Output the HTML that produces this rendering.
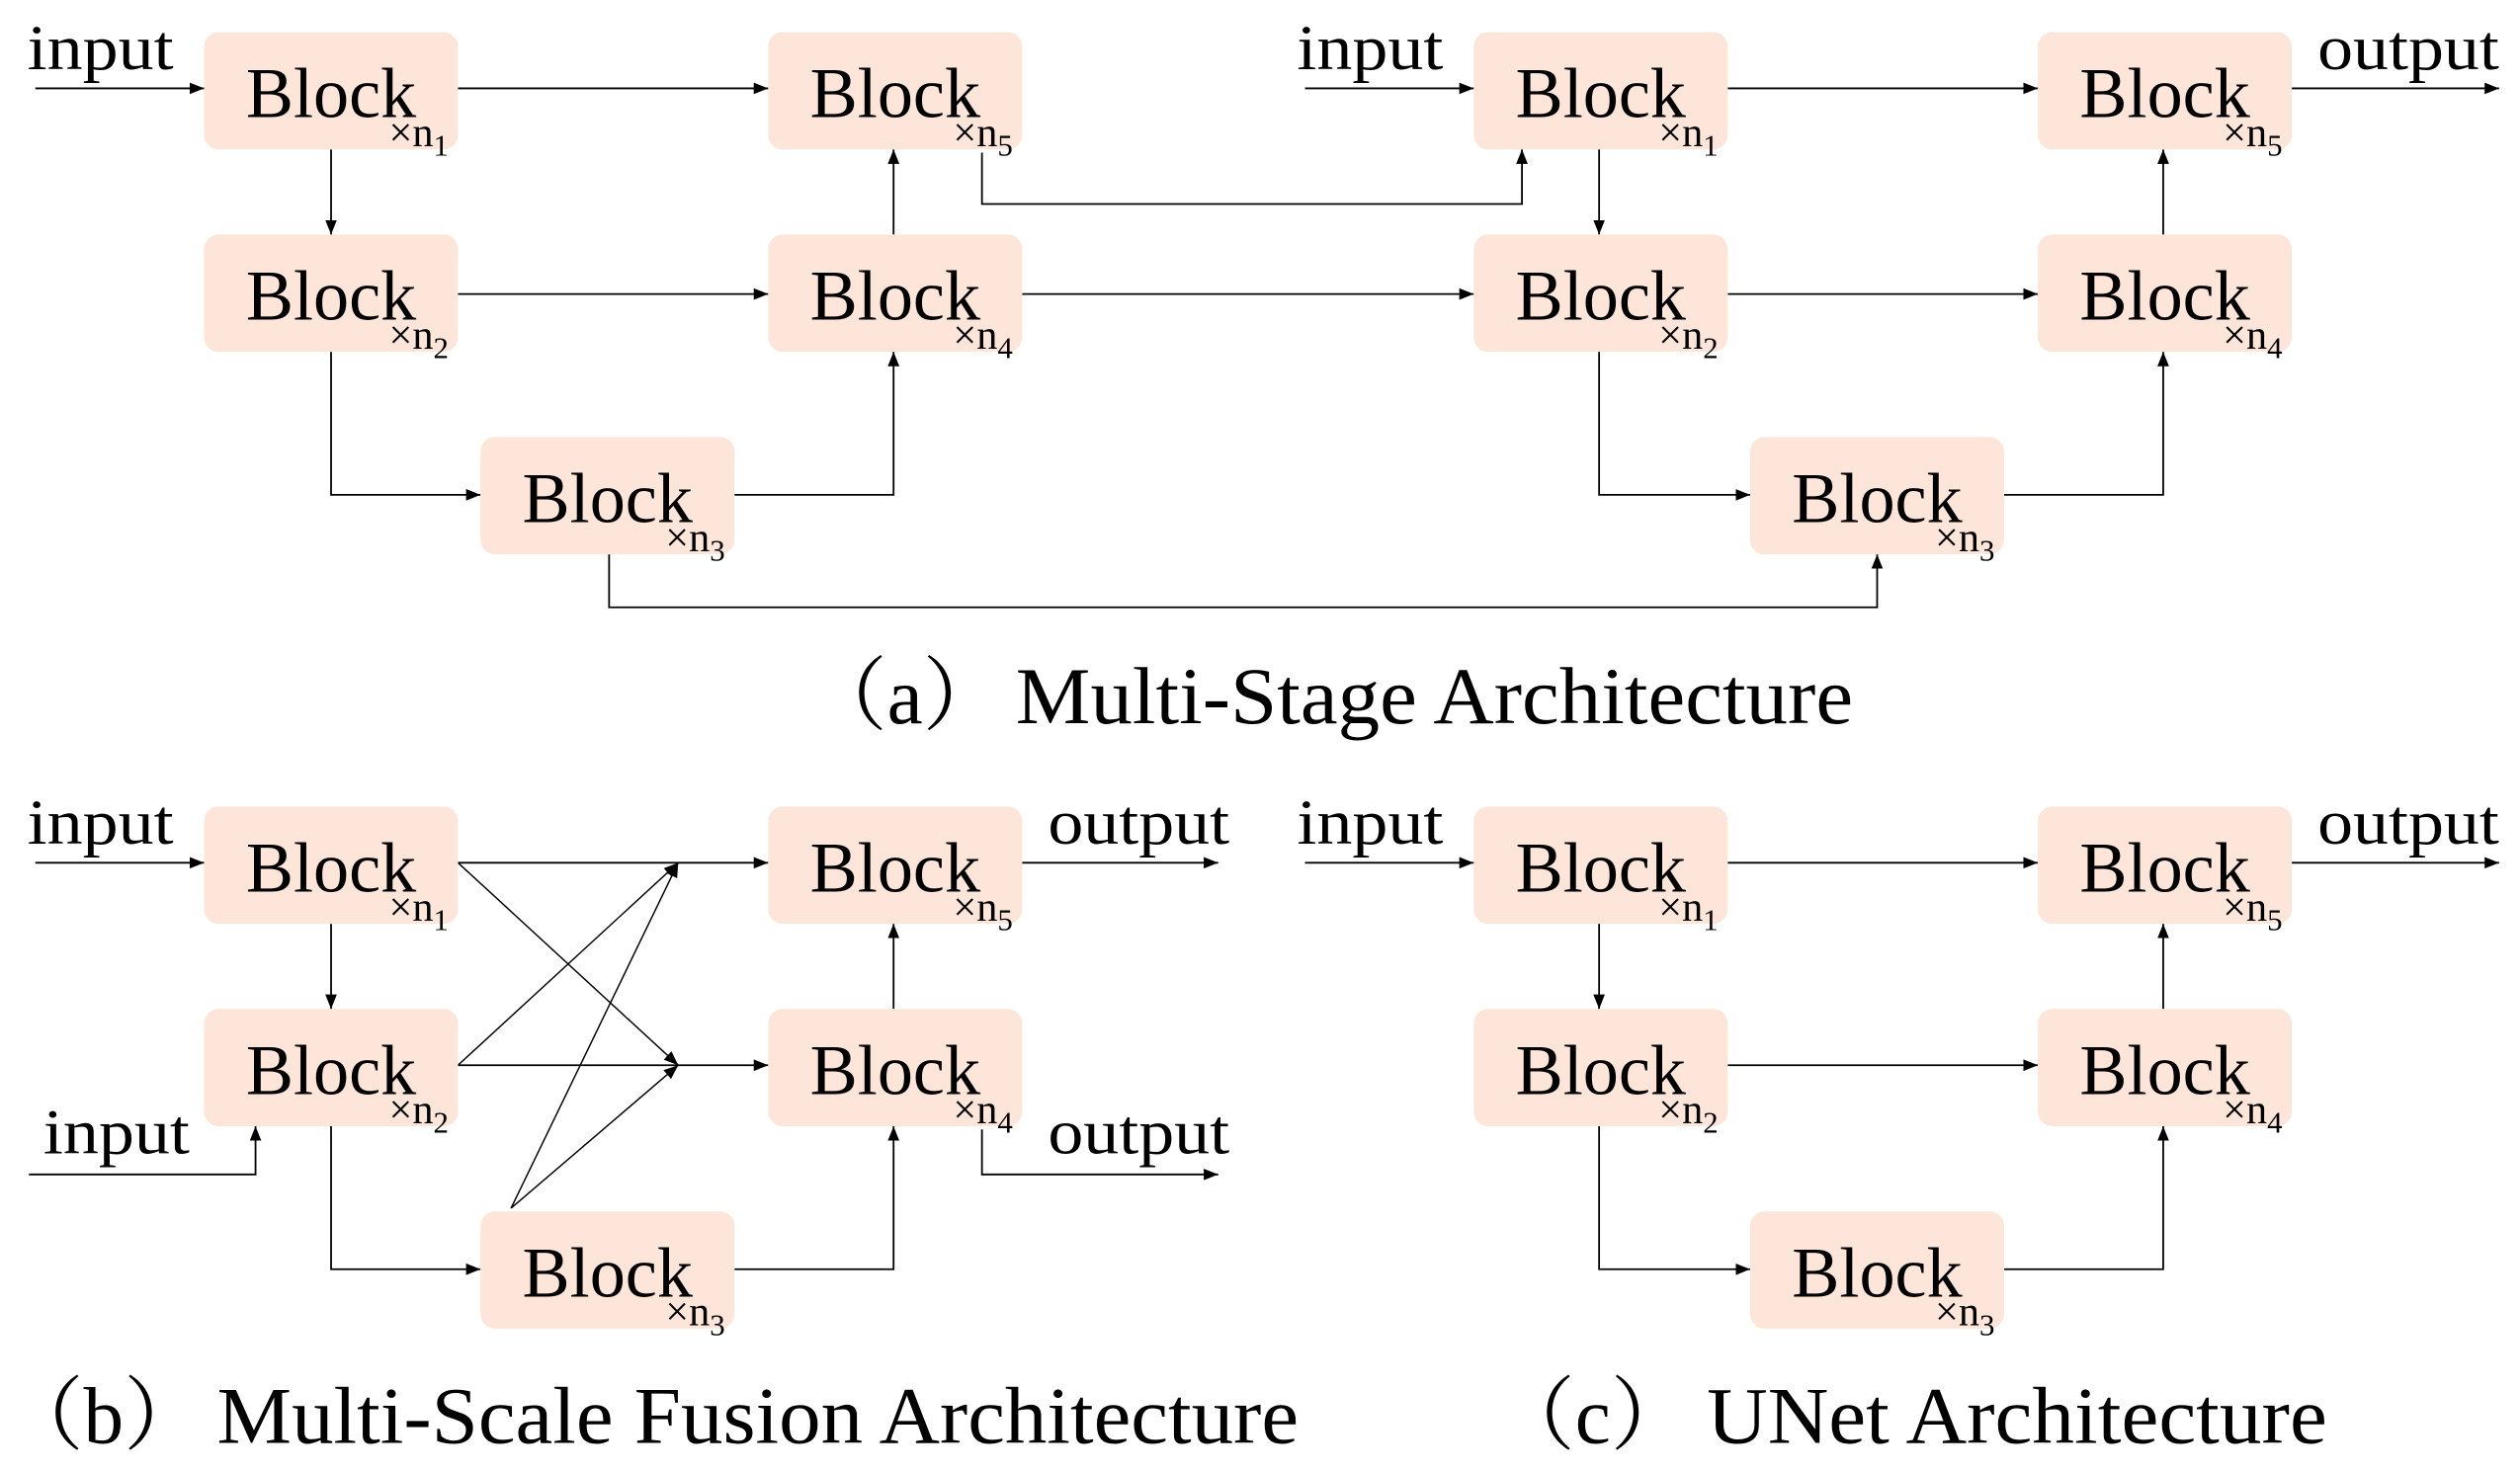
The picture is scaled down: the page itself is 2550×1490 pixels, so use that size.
<!DOCTYPE html>
<html><head><meta charset="utf-8"><style>
html,body{margin:0;padding:0;background:#fff;width:2550px;height:1490px;overflow:hidden}
svg{display:block}
text{font-family:"Liberation Serif","Noto Serif CJK SC",serif;fill:#000}
</style></head><body>
<svg width="2550" height="1490" viewBox="0 0 1568 916.2" preserveAspectRatio="none" xmlns="http://www.w3.org/2000/svg">
<defs>
<marker id="a" viewBox="0 0 10 10" refX="10" refY="5" markerWidth="9" markerHeight="9" markerUnits="userSpaceOnUse" orient="auto"><path d="M0,1 L10,5 L0,9 z" fill="#000"/></marker>
<g id="blk">
<rect x="0" y="0" width="158" height="73" rx="9" fill="#fde5da"/>
<text x="26" y="53" font-size="44" textLength="106" lengthAdjust="spacingAndGlyphs">Block</text>
</g>
</defs>
<g stroke="#000" stroke-width="1.1" fill="none">
<path d="M22,55H127" marker-end="url(#a)"/>
<path d="M285,55H478" marker-end="url(#a)"/>
<path d="M206,93V146" marker-end="url(#a)"/>
<path d="M285,183H478" marker-end="url(#a)"/>
<path d="M206,219V308H299" marker-end="url(#a)"/>
<path d="M457,308H556V219" marker-end="url(#a)"/>
<path d="M556,146V93" marker-end="url(#a)"/>
<path d="M611,95V127H947V93" marker-end="url(#a)"/>
<path d="M636,183H917" marker-end="url(#a)"/>
<path d="M379,345V378H1168V345" marker-end="url(#a)"/>
<path d="M812,55H917" marker-end="url(#a)"/>
<path d="M1075,55H1268" marker-end="url(#a)"/>
<path d="M1426,55H1555" marker-end="url(#a)"/>
<path d="M995,93V146" marker-end="url(#a)"/>
<path d="M1075,183H1268" marker-end="url(#a)"/>
<path d="M995,219V308H1089" marker-end="url(#a)"/>
<path d="M1247,308H1346V219" marker-end="url(#a)"/>
<path d="M1346,146V93" marker-end="url(#a)"/>
<path d="M22,537H127" marker-end="url(#a)"/>
<path d="M285,537H478" marker-end="url(#a)"/>
<path d="M206,575V628" marker-end="url(#a)"/>
<path d="M285,663H478" marker-end="url(#a)"/>
<path d="M18,731H159V701" marker-end="url(#a)"/>
<path d="M206,701V790H299" marker-end="url(#a)"/>
<path d="M457,790H556V701" marker-end="url(#a)"/>
<path d="M556,628V575" marker-end="url(#a)"/>
<path d="M636,537H758" marker-end="url(#a)"/>
<path d="M611,703V731H758" marker-end="url(#a)"/>
<path d="M285,537L422,663" stroke-width="0.9" marker-end="url(#a)"/>
<path d="M285,663L422,537" stroke-width="0.9" marker-end="url(#a)"/>
<path d="M318,752L422,537" stroke-width="0.9" marker-end="url(#a)"/>
<path d="M318,752L422,663" stroke-width="0.9" marker-end="url(#a)"/>
<path d="M812,537H917" marker-end="url(#a)"/>
<path d="M1075,537H1268" marker-end="url(#a)"/>
<path d="M1426,537H1555" marker-end="url(#a)"/>
<path d="M995,575V628" marker-end="url(#a)"/>
<path d="M1075,663H1268" marker-end="url(#a)"/>
<path d="M995,701V790H1089" marker-end="url(#a)"/>
<path d="M1247,790H1346V701" marker-end="url(#a)"/>
<path d="M1346,628V575" marker-end="url(#a)"/>
</g>
<g>
<use href="#blk" x="127" y="20"/><use href="#blk" x="478" y="20"/>
<use href="#blk" x="127" y="146"/><use href="#blk" x="478" y="146"/>
<use href="#blk" x="299" y="272"/>
<use href="#blk" x="917" y="20"/><use href="#blk" x="1268" y="20"/>
<use href="#blk" x="917" y="146"/><use href="#blk" x="1268" y="146"/>
<use href="#blk" x="1089" y="272"/>
<use href="#blk" x="127" y="502"/><use href="#blk" x="478" y="502"/>
<use href="#blk" x="127" y="628"/><use href="#blk" x="478" y="628"/>
<use href="#blk" x="299" y="754"/>
<use href="#blk" x="917" y="502"/><use href="#blk" x="1268" y="502"/>
<use href="#blk" x="917" y="628"/><use href="#blk" x="1268" y="628"/>
<use href="#blk" x="1089" y="754"/>
</g>
<g font-size="26">
<text x="242" y="91">×n<tspan font-size="19" dy="6">1</tspan></text>
<text x="593" y="91">×n<tspan font-size="19" dy="6">5</tspan></text>
<text x="242" y="217">×n<tspan font-size="19" dy="6">2</tspan></text>
<text x="593" y="217">×n<tspan font-size="19" dy="6">4</tspan></text>
<text x="414" y="343">×n<tspan font-size="19" dy="6">3</tspan></text>
<text x="1032" y="91">×n<tspan font-size="19" dy="6">1</tspan></text>
<text x="1383" y="91">×n<tspan font-size="19" dy="6">5</tspan></text>
<text x="1032" y="217">×n<tspan font-size="19" dy="6">2</tspan></text>
<text x="1383" y="217">×n<tspan font-size="19" dy="6">4</tspan></text>
<text x="1204" y="343">×n<tspan font-size="19" dy="6">3</tspan></text>
<text x="242" y="573">×n<tspan font-size="19" dy="6">1</tspan></text>
<text x="593" y="573">×n<tspan font-size="19" dy="6">5</tspan></text>
<text x="242" y="699">×n<tspan font-size="19" dy="6">2</tspan></text>
<text x="593" y="699">×n<tspan font-size="19" dy="6">4</tspan></text>
<text x="414" y="825">×n<tspan font-size="19" dy="6">3</tspan></text>
<text x="1032" y="573">×n<tspan font-size="19" dy="6">1</tspan></text>
<text x="1383" y="573">×n<tspan font-size="19" dy="6">5</tspan></text>
<text x="1032" y="699">×n<tspan font-size="19" dy="6">2</tspan></text>
<text x="1383" y="699">×n<tspan font-size="19" dy="6">4</tspan></text>
<text x="1204" y="825">×n<tspan font-size="19" dy="6">3</tspan></text>
</g>
<g font-size="40">
<text x="17" y="43" textLength="91" lengthAdjust="spacingAndGlyphs">input</text>
<text x="807" y="43" textLength="91" lengthAdjust="spacingAndGlyphs">input</text>
<text x="1442" y="43" textLength="113" lengthAdjust="spacingAndGlyphs">output</text>
<text x="17" y="525" textLength="91" lengthAdjust="spacingAndGlyphs">input</text>
<text x="27" y="718" textLength="91" lengthAdjust="spacingAndGlyphs">input</text>
<text x="652" y="525" textLength="113" lengthAdjust="spacingAndGlyphs">output</text>
<text x="652" y="718" textLength="113" lengthAdjust="spacingAndGlyphs">output</text>
<text x="807" y="525" textLength="91" lengthAdjust="spacingAndGlyphs">input</text>
<text x="1442" y="525" textLength="113" lengthAdjust="spacingAndGlyphs">output</text>
</g>
<g font-size="50">
<text x="502" y="450">（a）</text>
<text x="632" y="450" textLength="521" lengthAdjust="spacingAndGlyphs">Multi-Stage Architecture</text>
<text x="2" y="898">（b）</text>
<text x="135" y="898" textLength="673" lengthAdjust="spacingAndGlyphs">Multi-Scale Fusion Architecture</text>
<text x="930" y="898">（c）</text>
<text x="1062" y="898" textLength="386" lengthAdjust="spacingAndGlyphs">UNet Architecture</text>
</g>
</svg>
</body></html>
